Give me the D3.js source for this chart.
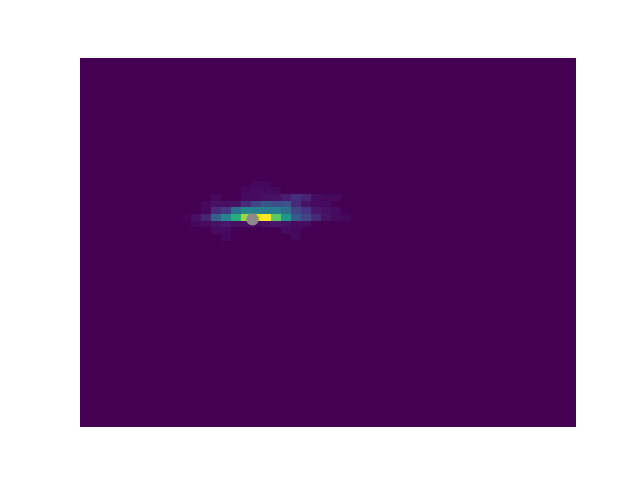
<!DOCTYPE html>
<html>
<head>
<meta charset="utf-8">
<script src="https://cdn.jsdelivr.net/npm/d3@7"></script>
<style>
  body { margin: 0; background: #fff; }
</style>
</head>
<body>
<div id="chart"></div>
<script>
// bin indices (columns run left->right, rows run top->bottom, row 0 = densest row)
var colIds = d3.range(0, 17);
var rowIds = d3.range(-5, 4);

// counts per bin, one line per row (rowIds order), one entry per column (colIds order)
var counts = [
  [0, 0, 0, 0, 0, 0, 0, 2, 2, 0, 0, 0, 0, 0, 0, 0, 0],
  [0, 0, 0, 0, 0, 0, 2, 3, 3, 2, 0, 0, 0, 0, 0, 0, 0],
  [0, 0, 0, 2, 0, 0, 3, 3, 4, 4, 8, 13, 10, 3, 2, 2, 0],
  [0, 0, 2, 4, 4, 5, 12, 20, 27, 24, 25, 12, 5, 3, 3, 0, 0],
  [0, 0, 2, 12, 16, 36, 46, 44, 42, 42, 36, 21, 15, 6, 4, 3, 0],
  [1, 4, 10, 30, 45, 62, 85, 95, 100, 75, 53, 28, 20, 12, 5, 3, 2],
  [0, 2, 3, 4, 6, 4, 4, 3, 4, 6, 5, 3, 3, 0, 0, 0, 0],
  [0, 0, 0, 3, 3, 0, 0, 0, 0, 0, 3, 2, 0, 0, 0, 0, 0],
  [0, 0, 0, 0, 2, 0, 0, 0, 0, 0, 0, 2, 0, 0, 0, 0, 0]
];

// marker position in bin units
var markerX = [7.15];
var markerY = [0.8];

var width = 640,
    height = 480,
    margin = {top: 58, right: 64, bottom: 53, left: 80};

var svg = d3.select("#chart")
  .append("svg")
  .attr("width", width)
  .attr("height", height);

var x = d3.scaleLinear()
  .domain([-10.1, 39.5])
  .range([margin.left, width - margin.right]);

var y = d3.scaleLinear()
  .domain([-23.4, 31.95])
  .range([margin.top, height - margin.bottom]);

var maxCount = d3.max(counts, function(r) { return d3.max(r); });
var color = d3.scaleSequential(d3.interpolateViridis).domain([0, maxCount]);

// empty bins are the bottom of the colormap
svg.append("rect")
  .attr("x", x(-10.1))
  .attr("y", y(-23.4))
  .attr("width", x(39.5) - x(-10.1))
  .attr("height", y(31.95) - y(-23.4))
  .attr("fill", color(0));

var cells = [];
rowIds.forEach(function(r, i) {
  colIds.forEach(function(c, j) {
    if (counts[i][j] > 0) cells.push({col: c, row: r, v: counts[i][j]});
  });
});

svg.append("g")
  .selectAll("rect")
  .data(cells)
  .enter()
  .append("rect")
  .attr("x", function(d) { return x(d.col); })
  .attr("y", function(d) { return y(d.row); })
  .attr("width", function(d) { return x(d.col + 1) - x(d.col); })
  .attr("height", function(d) { return y(d.row + 1) - y(d.row); })
  .attr("fill", function(d) { return color(d.v); })
  .attr("shape-rendering", "crispEdges");

svg.append("g")
  .selectAll("circle")
  .data(markerX)
  .enter()
  .append("circle")
  .attr("cx", function(d) { return x(d); })
  .attr("cy", function(d, i) { return y(markerY[i]); })
  .attr("r", 6.2)
  .attr("fill", "#8a8a8a");
</script>
</body>
</html>
